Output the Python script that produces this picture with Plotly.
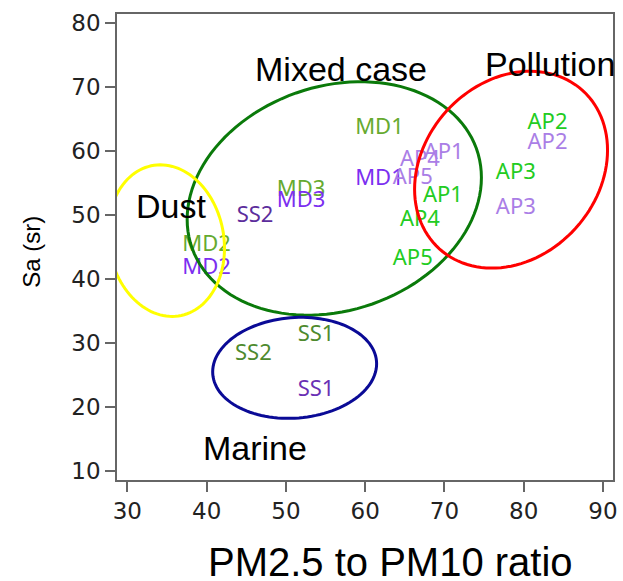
import numpy as np
import plotly.graph_objects as go

# ---------------- data ----------------
# Series A (green labels)
a_labels = ["MD1", "MD3", "MD2", "SS1", "SS2", "AP1", "AP2", "AP3", "AP4", "AP5"]
a_x = [61.8, 51.9, 40.0, 53.8, 45.9, 69.8, 83.0, 79.0, 66.9, 66.0]
a_y = [63.6, 53.9, 45.3, 31.1, 28.2, 52.9, 64.3, 56.5, 49.2, 43.0]
a_colors = ["#66aa30", "#66aa30", "#66aa30", "#4e8a2e", "#4e8a2e",
            "#22cc22", "#22cc22", "#22cc22", "#22cc22", "#22cc22"]

# Series B (purple labels)
b_labels = ["MD1", "MD3", "MD2", "SS1", "SS2", "AP1", "AP2", "AP3", "AP4", "AP5"]
b_x = [61.8, 51.9, 40.0, 53.8, 46.1, 69.9, 83.0, 79.0, 66.9, 66.0]
b_y = [55.5, 52.1, 41.7, 22.6, 49.7, 59.7, 61.2, 51.1, 58.5, 55.8]
b_colors = ["#7b2ff0", "#7b2ff0", "#7b2ff0", "#6a30b4", "#5c2d9c",
            "#aa7ee6", "#aa7ee6", "#aa7ee6", "#aa7ee6", "#aa7ee6"]

# Group labels
group_names = ["Mixed case", "Pollution", "Dust", "Marine"]
group_x = [57.0, 83.35, 35.55, 46.15]
group_y = [72.9, 73.6, 51.45, 13.6]

# Group ellipses: centre, half-width, half-height (data units), tilt phase
ell_cx = [56.1, 78.4, 34.9, 51.1]
ell_cy = [52.6, 57.1, 46.0, 26.1]
ell_rx = [18.56, 12.17, 7.35, 10.34]
ell_ry = [18.26, 15.4, 11.86, 7.9]
ell_phase = [0.18, 0.20, -0.10, 0.08]
ell_colors = ["#0a7a0a", "#ff0000", "#ffff00", "#0a0a96"]

x_ticks = [30, 40, 50, 60, 70, 80, 90]
y_ticks = [10, 20, 30, 40, 50, 60, 70, 80]

# ---------------- figure ----------------
fig = go.Figure()
fig.add_trace(go.Scatter(x=a_x, y=a_y, text=a_labels, mode="text",
                         textposition="middle center",
                         textfont=dict(family="Noto Sans", size=22, color=a_colors),
                         showlegend=False, hoverinfo="skip"))
fig.add_trace(go.Scatter(x=b_x, y=b_y, text=b_labels, mode="text",
                         textposition="middle center",
                         textfont=dict(family="Noto Sans", size=22, color=b_colors),
                         showlegend=False, hoverinfo="skip"))

t = np.linspace(0, 2 * np.pi, 121)
for cx, cy, rx, ry, ph, col in zip(ell_cx, ell_cy, ell_rx, ell_ry, ell_phase, ell_colors):
    xs = cx + rx * np.cos(t)
    ys = cy + ry * np.sin(t + ph)
    path = "M " + " L ".join(f"{x:.3f},{y:.3f}" for x, y in zip(xs, ys)) + " Z"
    fig.add_shape(type="path", path=path, xref="x", yref="y",
                  line=dict(color=col, width=3), layer="above")

for name, gx, gy in zip(group_names, group_x, group_y):
    fig.add_annotation(x=gx, y=gy, xref="x", yref="y", text=name, showarrow=False,
                       font=dict(family="Liberation Sans", size=34, color="black"),
                       xanchor="center", yanchor="middle")

fig.add_annotation(x=0.552, y=-0.175, xref="paper", yref="paper",
                   text="PM2.5 to PM10 ratio", showarrow=False,
                   font=dict(family="Liberation Sans", size=40, color="black"),
                   xanchor="center", yanchor="middle")
fig.add_annotation(x=-0.173, y=0.49, xref="paper", yref="paper",
                   text="Sa (sr)", showarrow=False, textangle=-90,
                   font=dict(family="Liberation Sans", size=24, color="black"),
                   xanchor="center", yanchor="middle")

axis_common = dict(showline=True, mirror=True, linecolor="#666666", linewidth=1.5,
                   ticks="outside", ticklen=10, tickcolor="#666666", tickwidth=1.5,
                   showgrid=False, zeroline=False,
                   tickfont=dict(family="DejaVu Sans", size=23, color="#222222"))
fig.update_xaxes(range=[28.69, 91.26], tickvals=x_ticks, automargin=False, **axis_common)
fig.update_yaxes(range=[8.55, 81.46], tickvals=y_ticks, automargin=False, **axis_common)

fig.update_layout(width=623, height=581,
                  margin=dict(l=117, r=10, t=14, b=101),
                  plot_bgcolor="white", paper_bgcolor="white")

fig.write_html("out.html", config={"displayModeBar": False},
               post_script="document.body.style.margin='0px';document.body.style.overflow='hidden';")
